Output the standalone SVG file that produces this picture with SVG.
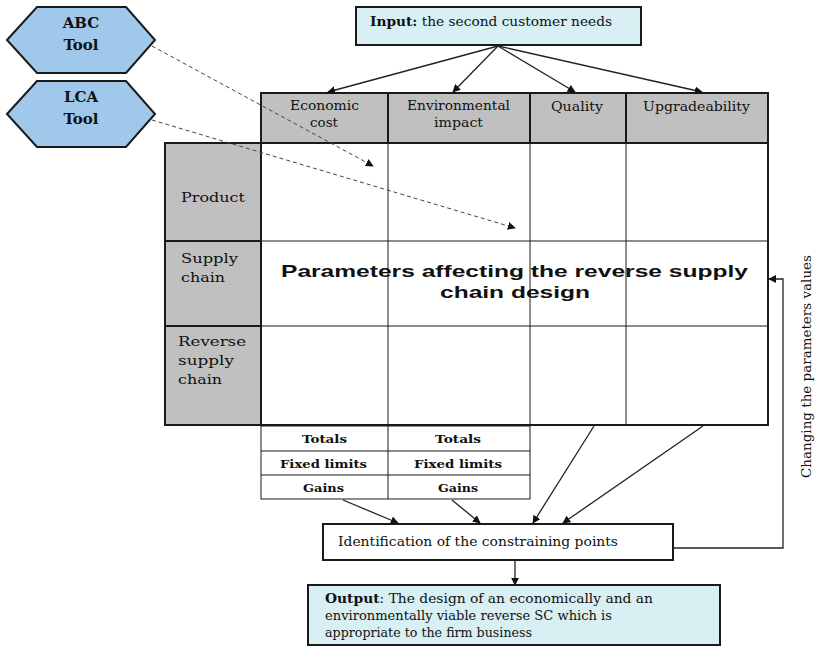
<svg xmlns="http://www.w3.org/2000/svg" width="819" height="647" viewBox="0 0 819 647">
<style>
text{font-family:"DejaVu Serif","Liberation Serif",serif;fill:#111}
.s{font-size:12.5px}
.r{font-size:13px}
.b{font-weight:bold}
.hex{fill:#9fc8ea;stroke:#1a1a1a;stroke-width:2}
.gray{fill:#c0c0c0;stroke:#1a1a1a;stroke-width:2}
.box{fill:#d8eff4;stroke:#1a1a1a;stroke-width:2}
.con{stroke:#222;stroke-width:1.3;fill:none}
.dash{stroke:#444;stroke-width:1;fill:none;stroke-dasharray:4 3}
.mid{text-anchor:middle}
.big{font-family:"Liberation Sans",Arial,sans-serif;font-weight:bold;font-size:17px}
</style>
<defs>
<marker id="ah" viewBox="0 0 10 10" refX="9" refY="5" markerWidth="8" markerHeight="8" markerUnits="userSpaceOnUse" orient="auto"><path d="M0,0L10,5L0,10z" fill="#111"/></marker>
</defs>

<g id="abc-tool">
<polygon class="hex" points="7,40 37,7 126,7 155,40 126,73 37,73"/>
<text class="b mid" x="81" y="28" font-size="15">ABC</text>
<text class="b mid" x="81" y="50" font-size="15">Tool</text>
</g>
<g id="lca-tool">
<polygon class="hex" points="7,114 37,81 126,81 155,114 126,147 37,147"/>
<text class="b mid" x="81" y="102" font-size="15">LCA</text>
<text class="b mid" x="81" y="124" font-size="15">Tool</text>
</g>

<g id="input">
<rect class="box" x="356" y="7" width="285" height="38"/>
<text class="s" x="370" y="26" textLength="242" lengthAdjust="spacingAndGlyphs"><tspan class="b">Input:</tspan> the second customer needs</text>
</g>

<g id="header">
<rect class="gray" x="261" y="93" width="127" height="50"/>
<rect class="gray" x="388" y="93" width="142" height="50"/>
<rect class="gray" x="530" y="93" width="96" height="50"/>
<rect class="gray" x="626" y="93" width="142" height="50"/>
<text class="s" x="290" y="110" textLength="69" lengthAdjust="spacingAndGlyphs">Economic</text>
<text class="s" x="310" y="127" textLength="28" lengthAdjust="spacingAndGlyphs">cost</text>
<text class="s" x="407" y="110" textLength="103" lengthAdjust="spacingAndGlyphs">Environmental</text>
<text class="s" x="434" y="127" textLength="49" lengthAdjust="spacingAndGlyphs">impact</text>
<text class="s" x="551" y="111" textLength="52" lengthAdjust="spacingAndGlyphs">Quality</text>
<text class="s" x="643" y="111" textLength="107" lengthAdjust="spacingAndGlyphs">Upgradeability</text>
</g>

<g id="grid">
<rect class="gray" x="165" y="143" width="96" height="98"/>
<rect class="gray" x="165" y="241" width="96" height="85"/>
<rect class="gray" x="165" y="326" width="96" height="99"/>
<rect x="261" y="143" width="507" height="282" fill="#fff" stroke="#1a1a1a" stroke-width="2"/>
<path d="M388,143V425M530,143V425M626,143V425M261,241H768M261,326H768" stroke="#1a1a1a" stroke-width="1" fill="none"/>
<text class="r" x="181" y="202" textLength="64" lengthAdjust="spacingAndGlyphs">Product</text>
<text class="r" x="181" y="263" textLength="57" lengthAdjust="spacingAndGlyphs">Supply</text>
<text class="r" x="181" y="282" textLength="44" lengthAdjust="spacingAndGlyphs">chain</text>
<text class="r" x="178" y="346" textLength="68" lengthAdjust="spacingAndGlyphs">Reverse</text>
<text class="r" x="178" y="365" textLength="56" lengthAdjust="spacingAndGlyphs">supply</text>
<text class="r" x="178" y="384" textLength="44" lengthAdjust="spacingAndGlyphs">chain</text>
<text class="big" x="281" y="277" textLength="467" lengthAdjust="spacingAndGlyphs">Parameters affecting the reverse supply</text>
<text class="big" x="440" y="298" textLength="150" lengthAdjust="spacingAndGlyphs">chain design</text>
</g>

<g id="limits">
<rect x="261" y="426" width="269" height="73" fill="#fff" stroke="#1a1a1a" stroke-width="1"/>
<path d="M388,426V499M261,451H530M261,475H530" stroke="#1a1a1a" stroke-width="1"/>
<text class="b" x="302" y="443" font-size="11" textLength="45" lengthAdjust="spacingAndGlyphs">Totals</text>
<text class="b" x="435" y="443" font-size="11" textLength="46" lengthAdjust="spacingAndGlyphs">Totals</text>
<text class="b" x="280" y="468" font-size="11" textLength="87" lengthAdjust="spacingAndGlyphs">Fixed limits</text>
<text class="b" x="414" y="468" font-size="11" textLength="88" lengthAdjust="spacingAndGlyphs">Fixed limits</text>
<text class="b" x="303" y="492" font-size="11" textLength="41" lengthAdjust="spacingAndGlyphs">Gains</text>
<text class="b" x="438" y="492" font-size="11" textLength="40" lengthAdjust="spacingAndGlyphs">Gains</text>
</g>

<g id="identification">
<rect x="323" y="524" width="350" height="36" fill="#fff" stroke="#1a1a1a" stroke-width="2"/>
<text class="s" x="338" y="546" textLength="280" lengthAdjust="spacingAndGlyphs">Identification of the constraining points</text>
</g>

<g id="output">
<rect class="box" x="308" y="585" width="412" height="60"/>
<text class="s" x="325" y="603" textLength="328" lengthAdjust="spacingAndGlyphs"><tspan class="b">Output</tspan>: The design of an economically and an</text>
<text class="s" x="325" y="620" textLength="287" lengthAdjust="spacingAndGlyphs">environmentally viable reverse SC which is</text>
<text class="s" x="325" y="637" textLength="207" lengthAdjust="spacingAndGlyphs">appropriate to the firm business</text>
</g>

<g id="side-label">
<text class="s" transform="translate(811,478) rotate(-90)" textLength="223" lengthAdjust="spacingAndGlyphs">Changing the parameters values</text>
</g>

<g id="connectors">
<path class="con" marker-end="url(#ah)" d="M498,46L328,92"/>
<path class="con" marker-end="url(#ah)" d="M498,46L453,92"/>
<path class="con" marker-end="url(#ah)" d="M498,46L575,92"/>
<path class="con" marker-end="url(#ah)" d="M498,46L702,92"/>
<path class="dash" marker-end="url(#ah)" d="M152,46L373,166"/>
<path class="dash" marker-end="url(#ah)" d="M152,120L515,228"/>
<path class="con" marker-end="url(#ah)" d="M343,500L398,523"/>
<path class="con" marker-end="url(#ah)" d="M452,500L480,523"/>
<path class="con" marker-end="url(#ah)" d="M594,426L533,523"/>
<path class="con" marker-end="url(#ah)" d="M703,426L563,523"/>
<path class="con" marker-end="url(#ah)" d="M515,561V585"/>
<path class="con" stroke="#666" marker-end="url(#ah)" d="M673,548H783V279H769"/>
</g>
</svg>
